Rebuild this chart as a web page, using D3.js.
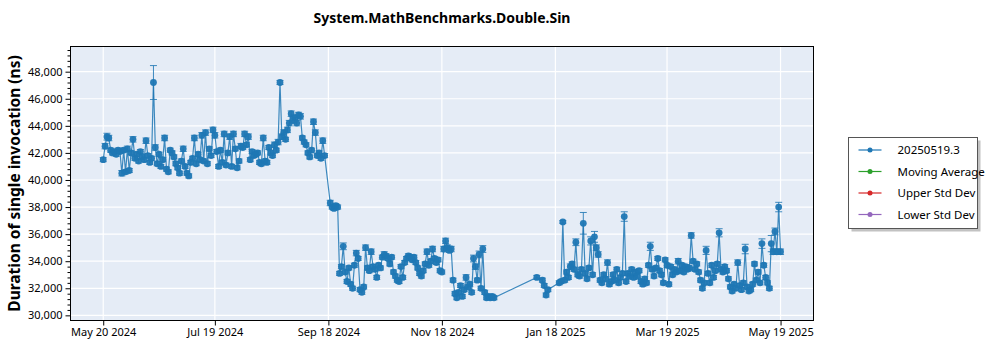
<!DOCTYPE html>
<html><head><meta charset="utf-8">
<script src="https://cdn.jsdelivr.net/npm/d3@7"></script>
<style>
body{margin:0;background:#fff;}
text{font-family:"Noto Sans","Open Sans",sans-serif;}
</style>
</head><body>
<svg id="c" width="1000" height="350"></svg>
<script>
const chartTitle = "System.MathBenchmarks.Double.Sin";
const yAxisTitle = "Duration of single invocation (ns)";
const legendNames = ["20250519.3", "Moving Average", "Upper Std Dev", "Lower Std Dev"];
const legendColors = ["#1f77b4", "#2ca02c", "#d62728", "#9467bd"];
const xTickDates = ["2024-05-20","2024-07-19","2024-09-18","2024-11-18","2025-01-18","2025-03-19","2025-05-19"];
const xTickLabels = ["May 20 2024","Jul 19 2024","Sep 18 2024","Nov 18 2024","Jan 18 2025","Mar 19 2025","May 19 2025"];
const yTickValues = [30000,32000,34000,36000,38000,40000,42000,44000,46000,48000];
const yTickLabels = ["30,000","32,000","34,000","36,000","38,000","40,000","42,000","44,000","46,000","48,000"];

const dates = [
"2024-05-20","2024-05-21","2024-05-22","2024-05-23","2024-05-24","2024-05-25","2024-05-26","2024-05-27","2024-05-28","2024-05-29","2024-05-30","2024-05-31",
"2024-06-01","2024-06-02","2024-06-03","2024-06-04","2024-06-05","2024-06-06","2024-06-07","2024-06-08","2024-06-09","2024-06-10","2024-06-11","2024-06-12","2024-06-13","2024-06-14","2024-06-15","2024-06-16","2024-06-17","2024-06-18","2024-06-19","2024-06-20","2024-06-21","2024-06-22","2024-06-23","2024-06-24","2024-06-25","2024-06-26","2024-06-27","2024-06-28","2024-06-29","2024-06-30",
"2024-07-01","2024-07-02","2024-07-03","2024-07-04","2024-07-05","2024-07-06","2024-07-07","2024-07-08","2024-07-09","2024-07-10","2024-07-11","2024-07-12","2024-07-13","2024-07-14","2024-07-15","2024-07-16","2024-07-17","2024-07-18","2024-07-19","2024-07-20","2024-07-21","2024-07-22","2024-07-23","2024-07-24","2024-07-25","2024-07-26","2024-07-27","2024-07-28","2024-07-29","2024-07-30","2024-07-31",
"2024-08-01","2024-08-02","2024-08-03","2024-08-04","2024-08-05","2024-08-06","2024-08-07","2024-08-08","2024-08-09","2024-08-10","2024-08-11","2024-08-12","2024-08-13","2024-08-14","2024-08-15","2024-08-16","2024-08-17","2024-08-18","2024-08-19","2024-08-20","2024-08-21","2024-08-22","2024-08-23","2024-08-24","2024-08-25","2024-08-26","2024-08-27","2024-08-28","2024-08-29","2024-08-30","2024-08-31",
"2024-09-01","2024-09-02","2024-09-03","2024-09-04","2024-09-05","2024-09-06","2024-09-07","2024-09-08","2024-09-09","2024-09-10","2024-09-11","2024-09-12","2024-09-13","2024-09-14","2024-09-15","2024-09-16",
"2024-09-19","2024-09-20","2024-09-21","2024-09-22","2024-09-23",
"2024-09-24","2024-09-25","2024-09-26","2024-09-27","2024-09-28","2024-09-29","2024-09-30",
"2024-10-01","2024-10-02","2024-10-03","2024-10-04","2024-10-05","2024-10-06","2024-10-07","2024-10-08","2024-10-09","2024-10-10","2024-10-11","2024-10-12","2024-10-13","2024-10-14","2024-10-15","2024-10-16","2024-10-17","2024-10-18","2024-10-19","2024-10-20","2024-10-21","2024-10-22","2024-10-23","2024-10-24","2024-10-25","2024-10-26","2024-10-27","2024-10-28","2024-10-29","2024-10-30","2024-10-31",
"2024-11-01","2024-11-02","2024-11-03","2024-11-04","2024-11-05","2024-11-06","2024-11-07","2024-11-08","2024-11-09","2024-11-10","2024-11-11","2024-11-12","2024-11-13","2024-11-14","2024-11-15","2024-11-16","2024-11-17","2024-11-18","2024-11-19","2024-11-20","2024-11-21","2024-11-22","2024-11-23","2024-11-24","2024-11-25","2024-11-26","2024-11-27","2024-11-28","2024-11-29","2024-11-30",
"2024-12-01","2024-12-02","2024-12-03","2024-12-04","2024-12-05","2024-12-06","2024-12-07","2024-12-08","2024-12-09","2024-12-10","2024-12-11","2024-12-12","2024-12-13","2024-12-14","2024-12-15","2024-12-16",
"2025-01-08","2025-01-11","2025-01-12","2025-01-13","2025-01-14","2025-01-20","2025-01-21","2025-01-22","2025-01-23","2025-01-24","2025-01-25","2025-01-26","2025-01-27","2025-01-28","2025-01-29","2025-01-30","2025-01-31",
"2025-02-01","2025-02-02","2025-02-03","2025-02-04","2025-02-05","2025-02-06","2025-02-07","2025-02-08","2025-02-09","2025-02-10","2025-02-11","2025-02-12","2025-02-13","2025-02-14","2025-02-15","2025-02-16","2025-02-17","2025-02-18","2025-02-19","2025-02-20","2025-02-21","2025-02-22","2025-02-23","2025-02-24","2025-02-25","2025-02-26","2025-02-27","2025-02-28",
"2025-03-01","2025-03-02","2025-03-03","2025-03-04","2025-03-05","2025-03-06","2025-03-07","2025-03-08","2025-03-09","2025-03-10","2025-03-11","2025-03-12","2025-03-13","2025-03-14","2025-03-15","2025-03-16","2025-03-17","2025-03-18","2025-03-19","2025-03-20","2025-03-21","2025-03-22","2025-03-23","2025-03-24","2025-03-25","2025-03-26","2025-03-27","2025-03-28","2025-03-29","2025-03-30","2025-03-31",
"2025-04-01","2025-04-02","2025-04-03","2025-04-04","2025-04-05","2025-04-06","2025-04-07","2025-04-08","2025-04-09","2025-04-10","2025-04-11","2025-04-12","2025-04-13","2025-04-14","2025-04-15","2025-04-16","2025-04-17","2025-04-18","2025-04-19","2025-04-20","2025-04-21","2025-04-22","2025-04-23","2025-04-24","2025-04-25","2025-04-26","2025-04-27","2025-04-28","2025-04-29","2025-04-30",
"2025-05-01","2025-05-02","2025-05-03","2025-05-04","2025-05-05","2025-05-06","2025-05-07","2025-05-08","2025-05-09","2025-05-10","2025-05-11","2025-05-12","2025-05-13","2025-05-14","2025-05-15","2025-05-16","2025-05-17","2025-05-18","2025-05-19"
];

const durations = [
41500,42500,43200,43100,42200,42000,42100,41900,42200,42100,40500,42200,
40600,42300,40700,42000,43000,41600,41900,41400,42100,41700,41500,42900,41800,41300,41600,47200,42400,41200,41900,41000,41500,43100,40800,40600,42200,42000,41700,41200,40900,40500,
41400,42300,41000,40500,40300,41300,41600,43100,41200,41900,41500,43300,41400,43500,41200,42300,41800,43700,43300,42100,41000,42200,41300,43400,41100,42000,43200,41000,43400,42300,40900,
41400,42500,42400,43400,42600,43200,41500,42100,41800,41900,42000,41300,41200,43100,41400,41300,42400,42000,41800,42600,42200,42800,47200,43200,43500,43000,43700,44200,44900,44400,44600,
44200,44800,44700,43100,42800,42600,42000,41700,42200,44300,43500,41800,42000,41600,42900,41800,
38300,38000,37900,38100,38000,
33100,33600,35100,33200,32500,33500,32300,
32000,33700,34600,34200,31900,31700,32100,35000,33500,33300,34700,33600,33400,32800,33700,33500,34300,34500,34400,34200,33800,34300,33200,32900,32600,32500,33600,32800,33900,34200,34400,
34300,34100,34300,33900,33500,33100,32900,33300,33800,34700,33700,34000,34900,34200,33900,34100,33300,33200,34900,35500,35000,34800,34900,32600,31600,31300,31700,32200,31400,31900,
32800,32100,32300,31700,34200,33600,32600,34500,32000,34900,31700,31300,31400,31300,31400,31300,
32800,32600,32200,31500,31900,32400,32500,36900,32600,33200,32800,33600,33800,33400,35400,33000,32900,
33400,36800,33100,32700,33500,35500,33000,35800,35000,34500,32600,32400,33000,32700,33900,32300,32500,33000,32600,33400,32400,32800,33100,37300,32500,33100,32900,33400,
32800,33200,32900,33300,32500,32300,32700,32400,33700,35100,33400,32900,33500,34200,33300,33000,32400,34100,33700,32300,33600,33000,33400,33200,34000,33300,33700,33200,33600,33400,33500,
35900,34000,33400,33800,33200,32600,32000,32400,34800,33100,32400,33700,32800,33300,33800,36100,33400,33200,33600,33300,32700,32100,31800,32300,32000,33900,32200,31900,32400,34900,
32100,31800,31900,32300,33800,32600,33200,32400,35300,33700,32800,32400,32000,35300,34700,36200,34700,38000,34700
];

const errors = [
150,200,250,200,150,150,150,150,150,150,200,150,
150,200,150,150,200,150,150,150,150,150,150,200,150,150,150,1250,200,150,150,150,150,200,150,150,150,150,150,150,150,150,
150,200,150,150,150,150,150,200,150,150,150,200,150,200,150,150,150,200,200,150,150,150,150,200,150,150,200,150,200,150,150,
150,200,150,200,150,200,150,150,150,150,150,150,150,200,150,150,150,150,150,200,150,200,150,200,200,150,200,200,200,200,200,
200,200,200,150,150,150,150,150,150,200,200,150,150,150,200,150,
200,150,150,150,150,
150,150,250,150,150,150,150,
150,150,200,150,150,150,150,200,150,150,200,150,150,150,150,150,150,200,150,150,150,150,150,150,150,150,150,150,150,150,150,
150,150,150,150,150,150,150,150,150,200,150,150,200,150,150,150,150,150,200,200,200,150,200,150,150,150,150,150,150,150,
200,150,150,150,250,200,150,250,150,250,150,150,150,150,150,150,
150,150,150,150,150,150,150,100,150,150,150,200,150,150,250,150,150,
150,800,150,150,150,300,150,400,200,200,150,150,150,150,200,150,150,150,150,150,150,150,150,350,150,150,150,150,
150,150,150,150,150,150,150,150,150,300,150,150,150,150,150,150,150,150,150,150,150,150,150,150,200,150,150,150,150,150,150,
200,150,150,150,150,150,150,150,300,150,150,150,150,150,150,300,150,150,150,150,150,150,150,150,150,200,150,150,150,350,
150,150,150,150,150,150,150,150,350,150,150,150,150,600,200,250,200,350,200
];

const svg = d3.select("#c");
const W = 1000, H = 350;
const M = {l: 70.5, r: 813.5, t: 46.5, b: 320.5};
const parse = d3.utcParse("%Y-%m-%d");
const data = dates.map((d, i) => ({date: parse(d), v: durations[i], e: errors[i]}));

const x = d3.scaleUtc()
  .domain([new Date(Date.UTC(2024, 4, 2, 10)), new Date(Date.UTC(2025, 5, 5, 17))])
  .range([M.l, M.r]);
const y = d3.scaleLinear().domain([29620, 49860]).range([M.b, M.t]);

svg.append("rect").attr("width", W).attr("height", H).attr("fill", "#fff");
svg.append("rect").attr("x", M.l).attr("y", M.t).attr("width", M.r - M.l).attr("height", M.b - M.t).attr("fill", "#e5ecf6");

const clip = svg.append("clipPath").attr("id", "pc").append("rect")
  .attr("x", M.l).attr("y", M.t).attr("width", M.r - M.l).attr("height", M.b - M.t);

// gridlines
const grid = svg.append("g");
grid.selectAll(".gy").data(yTickValues).join("line")
  .attr("x1", M.l).attr("x2", M.r).attr("y1", d => y(d)).attr("y2", d => y(d))
  .attr("stroke", "#fff").attr("stroke-width", 1.2);
grid.selectAll(".gx").data(xTickDates).join("line")
  .attr("x1", d => x(parse(d))).attr("x2", d => x(parse(d))).attr("y1", M.t).attr("y2", M.b)
  .attr("stroke", "#fff").attr("stroke-width", 1.2);

const plot = svg.append("g").attr("clip-path", "url(#pc)");
const color = legendColors[0];
plot.append("path").datum(data)
  .attr("d", d3.line().x(d => x(d.date)).y(d => y(d.v)))
  .attr("fill", "none").attr("stroke", color).attr("stroke-width", 1.2).attr("stroke-opacity", 0.85);

const eb = plot.append("g").attr("stroke", color).attr("stroke-width", 1).attr("stroke-opacity", 0.85);
data.forEach(d => {
  const cx = x(d.date);
  eb.append("line").attr("x1", cx).attr("x2", cx).attr("y1", y(d.v + d.e)).attr("y2", y(d.v - d.e));
  eb.append("line").attr("x1", cx - 3.5).attr("x2", cx + 3.5).attr("y1", y(d.v + d.e)).attr("y2", y(d.v + d.e));
  eb.append("line").attr("x1", cx - 3.5).attr("x2", cx + 3.5).attr("y1", y(d.v - d.e)).attr("y2", y(d.v - d.e));
});

plot.selectAll("circle").data(data).join("circle")
  .attr("cx", d => x(d.date)).attr("cy", d => y(d.v)).attr("r", 3.4)
  .attr("fill", color).attr("fill-opacity", 0.95);

// axes
const yAxis = d3.axisLeft(y).tickValues(yTickValues)
  .tickFormat((d, i) => yTickLabels[i]).tickSize(5).tickSizeOuter(0).tickPadding(3);
const gy = svg.append("g").attr("transform", `translate(${M.l},0)`).call(yAxis);
const minorY = d3.range(29600, 49860, 400).filter(v => v >= 29620 && yTickValues.indexOf(v) < 0);
const gym = svg.append("g").attr("transform", `translate(${M.l},0)`)
  .call(d3.axisLeft(y).tickValues(minorY).tickFormat("").tickSize(3).tickSizeOuter(0));
const xAxis = d3.axisBottom(x).tickValues(xTickDates.map(parse))
  .tickFormat((d, i) => xTickLabels[i]).tickSize(5).tickSizeOuter(0).tickPadding(3);
const gx = svg.append("g").attr("transform", `translate(0,${M.b})`).call(xAxis);
[gy, gym, gx].forEach(g => {
  g.select(".domain").remove();
  g.selectAll("line").attr("stroke", "#000");
  g.selectAll("text").attr("fill", "#000").style("font-size", "11px");
});

svg.append("rect").attr("x", M.l).attr("y", M.t).attr("width", M.r - M.l).attr("height", M.b - M.t)
  .attr("fill", "none").attr("stroke", "#000").attr("stroke-width", 1);

// titles
svg.append("text").attr("x", (M.l + M.r) / 2).attr("y", 23).attr("text-anchor", "middle")
  .style("font-size", "14px").style("font-weight", "bold").attr("fill", "#000").text(chartTitle);
svg.append("text").attr("transform", `translate(20,${(M.t + M.b) / 2}) rotate(-90)`)
  .attr("text-anchor", "middle").style("font-size", "15.5px").style("font-weight", "bold")
  .attr("fill", "#000").text(yAxisTitle);

// legend
const lg = svg.append("g").attr("transform", "translate(848.5,137.5)");
lg.append("rect").attr("x", 3).attr("y", 3).attr("width", 129).attr("height", 91).attr("fill", "#999").attr("opacity", 0.6);
lg.append("rect").attr("width", 129).attr("height", 91).attr("fill", "#fff").attr("stroke", "#555").attr("stroke-width", 1);
legendNames.forEach((n, i) => {
  const yy = 12.5 + i * 21.5;
  lg.append("line").attr("x1", 10).attr("x2", 33).attr("y1", yy).attr("y2", yy).attr("stroke", legendColors[i]).attr("stroke-width", 1.2);
  lg.append("circle").attr("cx", 21.5).attr("cy", yy).attr("r", 2.5).attr("fill", legendColors[i]);
  lg.append("text").attr("x", 49).attr("y", yy).attr("dy", "0.35em").style("font-size", "11.5px").attr("fill", "#000").text(n);
});
</script>
</body></html>
